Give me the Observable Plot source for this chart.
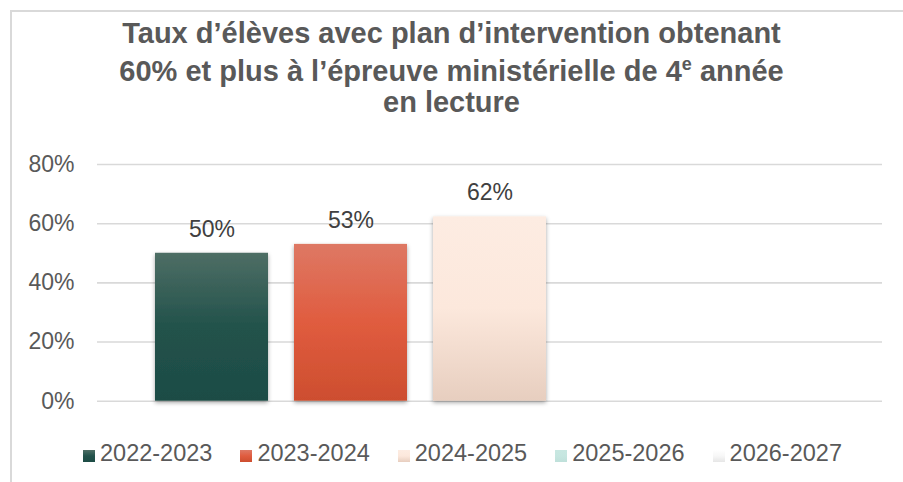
<!DOCTYPE html>
<html>
<head>
<meta charset="utf-8">
<script src="https://cdn.jsdelivr.net/npm/d3@7"></script>
<script src="https://cdn.jsdelivr.net/npm/@observablehq/plot@0.6"></script>
<style>
  html, body { margin: 0; padding: 0; background: #fff; overflow: hidden; }
  #wrap { position: relative; width: 903px; height: 482px; overflow: hidden; font-family: "Liberation Sans", Arial, sans-serif; }
  #frame { position: absolute; left: 10px; top: 10px; width: 960px; height: 520px; border-left: 2px solid #d9d9d9; border-top: 2px solid #d9d9d9; box-sizing: border-box; }
  .tline { position: absolute; left: 0; width: 903px; height: 30px; text-align: center; font-weight: bold; font-size: 29px; color: #595959; white-space: nowrap; line-height: 30px; }
  .tline sup { font-size: 18px; line-height: 0; vertical-align: 0; position: relative; top: -11px; }
  #chart { position: absolute; left: 0; top: 130px; }
  #legend { position: absolute; left: 83px; top: 440px; display: flex; align-items: center; }
  .item { display: flex; align-items: center; margin-right: 28px; }
  .sw { width: 12px; height: 12px; margin-right: 5px; margin-top: 5px; }
  .lab { font-size: 23.5px; color: #595959; }
</style>
</head>
<body>
<div id="wrap">
  <div id="frame"></div>
  <div class="tline" id="t1" style="top:18px"></div>
  <div class="tline" id="t2" style="top:56px"></div>
  <div class="tline" id="t3" style="top:87px"></div>
  <div id="chart"></div>
  <div id="legend"></div>
</div>
<script>
// ---- data ----
const years = ["2022-2023", "2023-2024", "2024-2025", "2025-2026", "2026-2027"];
const rates = [0.50, 0.53, 0.623, null, null];
const yTicks = [0, 0.2, 0.4, 0.6, 0.8];
const titleLine1 = "Taux d’élèves avec plan d’intervention obtenant";
const titleLine2a = "60% et plus à l’épreuve ministérielle de 4";
const titleLine2sup = "e";
const titleLine2b = " année";
const titleLine3 = "en lecture";

// gradient definitions (top, middle, bottom)
const gradStops = [
  ["#4e6e65", "#22524b", "#1d4c45"],
  ["#de7864", "#e05c3f", "#cd4e2f"],
  ["#fdece2", "#fce8dc", "#e7cebf"],
  ["#c8e7e1", "#c6e6e0", "#bfe0da"],
  ["#ffffff", "#f7f7f7", "#e6e6e6"]
];
const gradIds = years.map((_, i) => "grad" + i);

const data = years.map((y, i) => ({year: y, rate: rates[i]})).filter(d => d.rate != null);

document.getElementById("t1").textContent = titleLine1;
const t2 = document.getElementById("t2");
t2.append(titleLine2a);
const sup = document.createElement("sup"); sup.textContent = titleLine2sup; t2.append(sup);
t2.append(titleLine2b);
document.getElementById("t3").textContent = titleLine3;

const plot = Plot.plot({
  width: 903,
  height: 290,
  marginLeft: 97,
  marginRight: 21,
  marginTop: 34,
  marginBottom: 19.3,
  style: {fontFamily: "Liberation Sans, Arial, sans-serif", background: "transparent", overflow: "visible"},
  x: {domain: years, paddingInner: 0.186, paddingOuter: 0.4, axis: null},
  y: {domain: [0, 0.8], ticks: yTicks, tickFormat: d3.format(".0%")},
  color: {domain: years, range: gradIds.map(id => `url(#${id})`)},
  marks: [
    Plot.gridY(yTicks, {stroke: "#d9d9d9", strokeOpacity: 1, strokeWidth: 1.6}),
    Plot.axisY(yTicks, {tickSize: 0, tickPadding: 23, fontSize: 23, fill: "#595959", tickFormat: d3.format(".0%"), label: null}),
    Plot.barY(data, {x: "year", y: "rate", fill: "year"}),
    Plot.text(data, {x: "year", y: "rate", text: d => d3.format(".0%")(d.rate), dy: -24, fontSize: 23, fill: "#404040"})
  ]
});

// add gradients & shadow
const svg = d3.select(plot);
const defs = svg.insert("defs", ":first-child");
gradStops.forEach((s, i) => {
  const g = defs.append("linearGradient").attr("id", gradIds[i]).attr("x1", 0).attr("y1", 0).attr("x2", 0).attr("y2", 1);
  g.append("stop").attr("offset", "0%").attr("stop-color", s[0]);
  g.append("stop").attr("offset", "50%").attr("stop-color", s[1]);
  g.append("stop").attr("offset", "100%").attr("stop-color", s[2]);
});
const f = defs.append("filter").attr("id", "shadow").attr("x", "-20%").attr("y", "-20%").attr("width", "140%").attr("height", "140%");
f.append("feDropShadow").attr("dx", 0).attr("dy", 2).attr("stdDeviation", 2.2).attr("flood-color", "#000").attr("flood-opacity", 0.35);
svg.selectAll("g[aria-label='bar'] rect").attr("filter", "url(#shadow)");

document.getElementById("chart").append(plot);

// legend
const legend = document.getElementById("legend");
years.forEach((y, i) => {
  const it = document.createElement("div"); it.className = "item";
  const sw = document.createElement("div"); sw.className = "sw";
  sw.style.background = `linear-gradient(${gradStops[i][0]}, ${gradStops[i][1]}, ${gradStops[i][2]})`;
  const lb = document.createElement("span"); lb.className = "lab"; lb.textContent = y;
  it.append(sw, lb); legend.append(it);
});
</script>
</body>
</html>
